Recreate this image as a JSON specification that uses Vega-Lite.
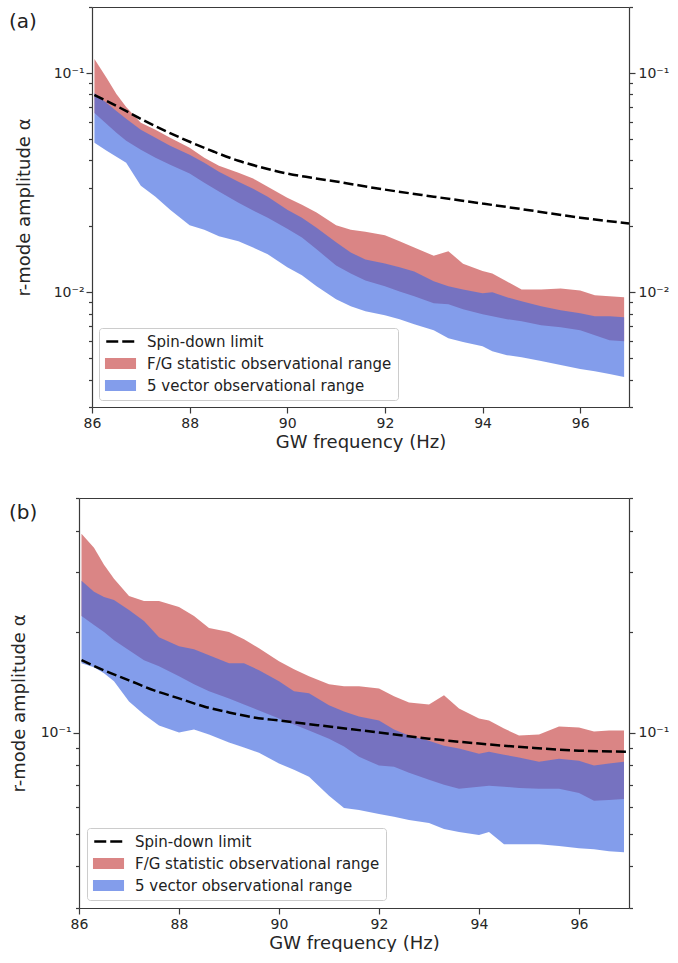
{
  "$schema": "https://vega.github.io/schema/vega-lite/v6.json",
  "background": "white",
  "padding": {"left": 9, "top": 0, "right": 0, "bottom": 0},
  "autosize": {"type": "pad"},
  "config": {
    "view": {"stroke": null},
    "font": "DejaVu Sans",
    "axis": {
      "domainColor": "#3a3a3a", "domainWidth": 1.2, "tickColor": "#3a3a3a", "tickWidth": 1.2,
      "labelColor": "#262626", "titleColor": "#262626", "labelFont": "DejaVu Sans", "titleFont": "DejaVu Sans",
      "labelFontSize": 14, "titleFontSize": 18, "titleFontWeight": "normal", "grid": false,
      "labelFlush": false, "labelOverlap": false
    },
    "legend": {
      "orient": "none", "title": null, "direction": "vertical",
      "labelFont": "DejaVu Sans", "labelFontSize": 15, "labelColor": "#222222", "labelLimit": 400,
      "symbolSize": 225, "symbolOffset": 8, "labelOffset": 19, "rowPadding": 6, "padding": 6,
      "strokeColor": "#cccccc", "fillColor": "rgba(255,255,255,0.8)", "cornerRadius": 3
    }
  },
  "datasets": {
    "a": [
      {"f":86.05,"fg_hi":0.1158,"fg_lo":0.0658,"fv_hi":0.0811,"fv_lo":0.0481},
      {"f":86.3,"fg_hi":0.0949,"fg_lo":0.0586,"fv_hi":0.0730,"fv_lo":0.0442},
      {"f":86.5,"fg_hi":0.0803,"fg_lo":0.0534,"fv_hi":0.0672,"fv_lo":0.0415},
      {"f":86.7,"fg_hi":0.0700,"fg_lo":0.0491,"fv_hi":0.0618,"fv_lo":0.0390},
      {"f":87.0,"fg_hi":0.0593,"fg_lo":0.0447,"fv_hi":0.0551,"fv_lo":0.0306},
      {"f":87.3,"fg_hi":0.0551,"fg_lo":0.0411,"fv_hi":0.0507,"fv_lo":0.0273},
      {"f":87.6,"fg_hi":0.0507,"fg_lo":0.0382,"fv_hi":0.0466,"fv_lo":0.0238},
      {"f":88.0,"fg_hi":0.0456,"fg_lo":0.0348,"fv_hi":0.0424,"fv_lo":0.0202},
      {"f":88.3,"fg_hi":0.0411,"fg_lo":0.0316,"fv_hi":0.0390,"fv_lo":0.0193},
      {"f":88.6,"fg_hi":0.0378,"fg_lo":0.0288,"fv_hi":0.0355,"fv_lo":0.0180},
      {"f":89.0,"fg_hi":0.0351,"fg_lo":0.0256,"fv_hi":0.0319,"fv_lo":0.0171},
      {"f":89.3,"fg_hi":0.0330,"fg_lo":0.0236,"fv_hi":0.0297,"fv_lo":0.0160},
      {"f":89.6,"fg_hi":0.0303,"fg_lo":0.0219,"fv_hi":0.0273,"fv_lo":0.0149},
      {"f":90.0,"fg_hi":0.0270,"fg_lo":0.0195,"fv_hi":0.0238,"fv_lo":0.0130},
      {"f":90.3,"fg_hi":0.0251,"fg_lo":0.0178,"fv_hi":0.0219,"fv_lo":0.01195},
      {"f":90.6,"fg_hi":0.0231,"fg_lo":0.0157,"fv_hi":0.0197,"fv_lo":0.01065},
      {"f":91.0,"fg_hi":0.0202,"fg_lo":0.01327,"fv_hi":0.0169,"fv_lo":0.0093},
      {"f":91.3,"fg_hi":0.0193,"fg_lo":0.0122,"fv_hi":0.0152,"fv_lo":0.00864},
      {"f":91.6,"fg_hi":0.0189,"fg_lo":0.01133,"fv_hi":0.0141,"fv_lo":0.00819},
      {"f":92.0,"fg_hi":0.0182,"fg_lo":0.01065,"fv_hi":0.01355,"fv_lo":0.00786},
      {"f":92.3,"fg_hi":0.0171,"fg_lo":0.0101,"fv_hi":0.0130,"fv_lo":0.00754},
      {"f":92.6,"fg_hi":0.0160,"fg_lo":0.00959,"fv_hi":0.01246,"fv_lo":0.00715},
      {"f":93.0,"fg_hi":0.0147,"fg_lo":0.00891,"fv_hi":0.01122,"fv_lo":0.00672},
      {"f":93.3,"fg_hi":0.0154,"fg_lo":0.00882,"fv_hi":0.01065,"fv_lo":0.00618},
      {"f":93.6,"fg_hi":0.0135,"fg_lo":0.00837,"fv_hi":0.01031,"fv_lo":0.00593},
      {"f":94.0,"fg_hi":0.0125,"fg_lo":0.00794,"fv_hi":0.0099,"fv_lo":0.00568},
      {"f":94.2,"fg_hi":0.0122,"fg_lo":0.00778,"fv_hi":0.0100,"fv_lo":0.00539},
      {"f":94.5,"fg_hi":0.0112,"fg_lo":0.00754,"fv_hi":0.00949,"fv_lo":0.00517},
      {"f":94.8,"fg_hi":0.0103,"fg_lo":0.00738,"fv_hi":0.0091,"fv_lo":0.00506},
      {"f":95.2,"fg_hi":0.0103,"fg_lo":0.00708,"fv_hi":0.00864,"fv_lo":0.00486},
      {"f":95.6,"fg_hi":0.0104,"fg_lo":0.00693,"fv_hi":0.00829,"fv_lo":0.00466},
      {"f":96.0,"fg_hi":0.0102,"fg_lo":0.00672,"fv_hi":0.00803,"fv_lo":0.00447},
      {"f":96.3,"fg_hi":0.00969,"fg_lo":0.00637,"fv_hi":0.00778,"fv_lo":0.00437},
      {"f":96.6,"fg_hi":0.00959,"fg_lo":0.00605,"fv_hi":0.00778,"fv_lo":0.00424},
      {"f":96.9,"fg_hi":0.00949,"fg_lo":0.00599,"fv_hi":0.0077,"fv_lo":0.00411}
    ],
    "b": [
      {"f":86.05,"fg_hi":0.3915,"fg_lo":0.2225,"fv_hi":0.2833,"fv_lo":0.1609},
      {"f":86.3,"fg_hi":0.3555,"fg_lo":0.2091,"fv_hi":0.2626,"fv_lo":0.1565},
      {"f":86.5,"fg_hi":0.3162,"fg_lo":0.1993,"fv_hi":0.2536,"fv_lo":0.1502},
      {"f":86.7,"fg_hi":0.2872,"fg_lo":0.1885,"fv_hi":0.2484,"fv_lo":0.1421},
      {"f":87.0,"fg_hi":0.2554,"fg_lo":0.1760,"fv_hi":0.2319,"fv_lo":0.1238},
      {"f":87.3,"fg_hi":0.2467,"fg_lo":0.1643,"fv_hi":0.2149,"fv_lo":0.1132},
      {"f":87.6,"fg_hi":0.2467,"fg_lo":0.1576,"fv_hi":0.1924,"fv_lo":0.1049},
      {"f":88.0,"fg_hi":0.2368,"fg_lo":0.1471,"fv_hi":0.1809,"fv_lo":0.1000},
      {"f":88.3,"fg_hi":0.2225,"fg_lo":0.1392,"fv_hi":0.1772,"fv_lo":0.1021},
      {"f":88.6,"fg_hi":0.2048,"fg_lo":0.1327,"fv_hi":0.1700,"fv_lo":0.0986},
      {"f":89.0,"fg_hi":0.1993,"fg_lo":0.1264,"fv_hi":0.1609,"fv_lo":0.0934},
      {"f":89.3,"fg_hi":0.1898,"fg_lo":0.1213,"fv_hi":0.1609,"fv_lo":0.0902},
      {"f":89.6,"fg_hi":0.1784,"fg_lo":0.1164,"fv_hi":0.1533,"fv_lo":0.0871},
      {"f":90.0,"fg_hi":0.1632,"fg_lo":0.1101,"fv_hi":0.1421,"fv_lo":0.0808},
      {"f":90.3,"fg_hi":0.1544,"fg_lo":0.1057,"fv_hi":0.1327,"fv_lo":0.0775},
      {"f":90.6,"fg_hi":0.1471,"fg_lo":0.1014,"fv_hi":0.1309,"fv_lo":0.0738},
      {"f":91.0,"fg_hi":0.1392,"fg_lo":0.0959,"fv_hi":0.1205,"fv_lo":0.0648},
      {"f":91.3,"fg_hi":0.1373,"fg_lo":0.0908,"fv_hi":0.1156,"fv_lo":0.0596},
      {"f":91.6,"fg_hi":0.1373,"fg_lo":0.0847,"fv_hi":0.1117,"fv_lo":0.0588},
      {"f":92.0,"fg_hi":0.1354,"fg_lo":0.0797,"fv_hi":0.1086,"fv_lo":0.0572},
      {"f":92.3,"fg_hi":0.1282,"fg_lo":0.0791,"fv_hi":0.1021,"fv_lo":0.0561},
      {"f":92.6,"fg_hi":0.1230,"fg_lo":0.0759,"fv_hi":0.0980,"fv_lo":0.0549},
      {"f":93.0,"fg_hi":0.1213,"fg_lo":0.0723,"fv_hi":0.0946,"fv_lo":0.0538},
      {"f":93.3,"fg_hi":0.1291,"fg_lo":0.0699,"fv_hi":0.0914,"fv_lo":0.0516},
      {"f":93.6,"fg_hi":0.1180,"fg_lo":0.0680,"fv_hi":0.0896,"fv_lo":0.0505},
      {"f":94.0,"fg_hi":0.1101,"fg_lo":0.0689,"fv_hi":0.0865,"fv_lo":0.0495},
      {"f":94.2,"fg_hi":0.1086,"fg_lo":0.0694,"fv_hi":0.0877,"fv_lo":0.0505},
      {"f":94.5,"fg_hi":0.1028,"fg_lo":0.0689,"fv_hi":0.0859,"fv_lo":0.0465},
      {"f":94.8,"fg_hi":0.0980,"fg_lo":0.0684,"fv_hi":0.0842,"fv_lo":0.0465},
      {"f":95.2,"fg_hi":0.0986,"fg_lo":0.0680,"fv_hi":0.0819,"fv_lo":0.0465},
      {"f":95.6,"fg_hi":0.1042,"fg_lo":0.0680,"fv_hi":0.0836,"fv_lo":0.0459},
      {"f":96.0,"fg_hi":0.1035,"fg_lo":0.0661,"fv_hi":0.0824,"fv_lo":0.0452},
      {"f":96.3,"fg_hi":0.1007,"fg_lo":0.0626,"fv_hi":0.0797,"fv_lo":0.0449},
      {"f":96.6,"fg_hi":0.1014,"fg_lo":0.0630,"fv_hi":0.0808,"fv_lo":0.0443},
      {"f":96.9,"fg_hi":0.1014,"fg_lo":0.0634,"fv_hi":0.0819,"fv_lo":0.0440}
    ],
    "sa": [
      {"f":86.05,"alpha":0.0794},{"f":86.5,"alpha":0.0708},{"f":87.0,"alpha":0.0618},{"f":87.5,"alpha":0.0545},
      {"f":88.0,"alpha":0.0486},{"f":88.5,"alpha":0.04375},{"f":89.0,"alpha":0.0398},{"f":89.5,"alpha":0.0370},
      {"f":90.0,"alpha":0.0348},{"f":90.5,"alpha":0.0333},{"f":91.0,"alpha":0.0320},{"f":92.0,"alpha":0.0294},
      {"f":93.0,"alpha":0.0273},{"f":94.0,"alpha":0.0254},{"f":95.0,"alpha":0.0236},{"f":96.0,"alpha":0.0219},
      {"f":97.0,"alpha":0.0206}
    ],
    "sb": [
      {"f":86.05,"alpha":0.1643},{"f":86.5,"alpha":0.1533},{"f":87.0,"alpha":0.1431},{"f":87.5,"alpha":0.1336},
      {"f":88.0,"alpha":0.1264},{"f":88.5,"alpha":0.1196},{"f":89.0,"alpha":0.1148},{"f":89.5,"alpha":0.1109},
      {"f":90.0,"alpha":0.1086},{"f":90.5,"alpha":0.1064},{"f":91.0,"alpha":0.1042},{"f":92.0,"alpha":0.1},
      {"f":93.0,"alpha":0.0959},{"f":94.0,"alpha":0.0927},{"f":95.0,"alpha":0.0902},{"f":96.0,"alpha":0.0883},
      {"f":97.0,"alpha":0.0877}
    ]
  },
  "spacing": 40,
  "resolve": {"scale": {"color": "independent"}},
  "vconcat": [
    {
      "width": 550,
      "height": 400,
      "title": {"text": "(a)", "anchor": "start", "frame": "group", "offset": 0, "dx": -70, "dy": 32, "fontSize": 20, "fontWeight": "normal", "font": "DejaVu Sans", "color": "#222222"},
      "layer": [
        {
          "data": {"name": "a"},
          "mark": {"type": "area", "opacity": 0.75},
          "encoding": {
            "x": {"field": "f", "type": "quantitative", "scale": {"domain": [86, 97], "range": [13, 550], "nice": false, "zero": false},
                  "axis": {"orient": "bottom", "values": [86, 88, 90, 92, 94, 96], "tickSize": 6, "labelPadding": 3, "title": "GW frequency (Hz)", "titlePadding": 3}},
            "y": {"field": "fg_hi", "type": "quantitative", "scale": {"type": "log", "domain": [0.003, 0.2], "nice": false},
                  "axis": {"orient": "left", "offset": -13, "values": [0.003, 0.004, 0.005, 0.006, 0.007, 0.008, 0.009, 0.01, 0.02, 0.03, 0.04, 0.05, 0.06, 0.07, 0.08, 0.09, 0.1, 0.2],
                           "labelExpr": "datum.value == 0.1 ? '10⁻¹' : datum.value == 0.01 ? '10⁻²' : ''",
                           "tickSize": {"condition": {"test": "datum.value == 0.1 || datum.value == 0.01", "value": 6}, "value": 3.5},
                           "labelPadding": 2, "title": "r-mode amplitude α", "titlePadding": 20}},
            "y2": {"field": "fg_lo"},
            "color": {"datum": "F/G statistic observational range", "type": "nominal",
                      "scale": {"domain": ["Spin-down limit", "F/G statistic observational range", "5 vector observational range"], "range": ["#000000", "#cd5c5c", "#4169e1"]},
                      "legend": {
                        "legendX": 20, "legendY": 321,
                        "encode": {"symbols": {"update": {
                          "shape": {"signal": "datum.value == 'Spin-down limit' ? 'M-1.9,0H1.9' : 'M-2.07,-0.73H2.07V0.73H-2.07Z'"},
                          "fill": {"signal": "datum.value == 'Spin-down limit' ? 'transparent' : datum.value == 'F/G statistic observational range' ? '#cd5c5c' : '#4169e1'"},
                          "fillOpacity": {"signal": "datum.value == 'F/G statistic observational range' ? 0.75 : 0.65"},
                          "stroke": {"signal": "datum.value == 'Spin-down limit' ? '#000000' : 'transparent'"},
                          "strokeWidth": {"signal": "datum.value == 'Spin-down limit' ? 2.5 : 0"},
                          "strokeDash": {"signal": "datum.value == 'Spin-down limit' ? [12, 4] : [1, 0]"},
                          "opacity": {"value": 1}
                        }}}
                      }}
          }
        },
        {
          "data": {"name": "a"},
          "mark": {"type": "area", "opacity": 0.65},
          "encoding": {
            "x": {"field": "f", "type": "quantitative", "scale": {"domain": [86, 97], "range": [13, 550], "nice": false, "zero": false},
                  "axis": {"orient": "top", "labels": false, "ticks": false, "title": null, "domain": true}},
            "y": {"field": "fv_hi", "type": "quantitative", "scale": {"type": "log", "domain": [0.003, 0.2], "nice": false},
                  "axis": {"orient": "right", "values": [0.003, 0.004, 0.005, 0.006, 0.007, 0.008, 0.009, 0.01, 0.02, 0.03, 0.04, 0.05, 0.06, 0.07, 0.08, 0.09, 0.1, 0.2],
                           "labelExpr": "datum.value == 0.1 ? '10⁻¹' : datum.value == 0.01 ? '10⁻²' : ''",
                           "tickSize": {"condition": {"test": "datum.value == 0.1 || datum.value == 0.01", "value": 6}, "value": 3.5},
                           "labelPadding": 3, "title": null}},
            "y2": {"field": "fv_lo"},
            "color": {"datum": "5 vector observational range", "type": "nominal",
                      "legend": {
                        "legendX": 20, "legendY": 321,
                        "encode": {"symbols": {"update": {
                          "shape": {"signal": "datum.value == 'Spin-down limit' ? 'M-1.9,0H1.9' : 'M-2.07,-0.73H2.07V0.73H-2.07Z'"},
                          "fill": {"signal": "datum.value == 'Spin-down limit' ? 'transparent' : datum.value == 'F/G statistic observational range' ? '#cd5c5c' : '#4169e1'"},
                          "fillOpacity": {"signal": "datum.value == 'F/G statistic observational range' ? 0.75 : 0.65"},
                          "stroke": {"signal": "datum.value == 'Spin-down limit' ? '#000000' : 'transparent'"},
                          "strokeWidth": {"signal": "datum.value == 'Spin-down limit' ? 2.5 : 0"},
                          "strokeDash": {"signal": "datum.value == 'Spin-down limit' ? [12, 4] : [1, 0]"},
                          "opacity": {"value": 1}
                        }}}
                      }}
          }
        },
        {
          "data": {"name": "sa"},
          "mark": {"type": "line", "strokeDash": [10, 4], "strokeWidth": 2.5, "interpolate": "monotone"},
          "encoding": {
            "x": {"field": "f", "type": "quantitative", "axis": null},
            "y": {"field": "alpha", "type": "quantitative", "axis": null},
            "color": {"datum": "Spin-down limit", "type": "nominal",
                      "legend": {
                        "legendX": 20, "legendY": 321,
                        "encode": {"symbols": {"update": {
                          "shape": {"signal": "datum.value == 'Spin-down limit' ? 'M-1.9,0H1.9' : 'M-2.07,-0.73H2.07V0.73H-2.07Z'"},
                          "fill": {"signal": "datum.value == 'Spin-down limit' ? 'transparent' : datum.value == 'F/G statistic observational range' ? '#cd5c5c' : '#4169e1'"},
                          "fillOpacity": {"signal": "datum.value == 'F/G statistic observational range' ? 0.75 : 0.65"},
                          "stroke": {"signal": "datum.value == 'Spin-down limit' ? '#000000' : 'transparent'"},
                          "strokeWidth": {"signal": "datum.value == 'Spin-down limit' ? 2.5 : 0"},
                          "strokeDash": {"signal": "datum.value == 'Spin-down limit' ? [12, 4] : [1, 0]"},
                          "opacity": {"value": 1}
                        }}}
                      }}
          }
        },
        {
          "mark": {"type": "text", "align": "left", "baseline": "middle", "fontSize": 15, "font": "DejaVu Sans", "color": "#222222"},
          "encoding": {
            "x": {"datum": 91.0, "type": "quantitative", "axis": null},
            "y": {"datum": 0.157, "type": "quantitative", "axis": null},
            "text": {"value": "Causally limited EoS + crust"}
          }
        }
      ],
      "resolve": {"axis": {"x": "independent", "y": "independent"}}
    },
    {
      "width": 550,
      "height": 410,
      "title": {"text": "(b)", "anchor": "start", "frame": "group", "offset": 0, "dx": -70, "dy": 32, "fontSize": 20, "fontWeight": "normal", "font": "DejaVu Sans", "color": "#222222"},
      "layer": [
        {
          "data": {"name": "b"},
          "mark": {"type": "area", "opacity": 0.75},
          "encoding": {
            "x": {"field": "f", "type": "quantitative", "scale": {"domain": [86, 97], "nice": false, "zero": false},
                  "axis": {"orient": "bottom", "values": [86, 88, 90, 92, 94, 96], "tickSize": 6, "labelPadding": 3, "title": "GW frequency (Hz)", "titlePadding": 3}},
            "y": {"field": "fg_hi", "type": "quantitative", "scale": {"type": "log", "domain": [0.03, 0.5], "nice": false},
                  "axis": {"orient": "left", "values": [0.03, 0.04, 0.05, 0.06, 0.07, 0.08, 0.09, 0.1, 0.2, 0.3, 0.4, 0.5],
                           "labelExpr": "datum.value == 0.1 ? '10⁻¹' : ''",
                           "tickSize": {"condition": {"test": "datum.value == 0.1", "value": 6}, "value": 3.5},
                           "labelPadding": 2, "title": "r-mode amplitude α", "titlePadding": 12}},
            "y2": {"field": "fg_lo"},
            "color": {"datum": "F/G statistic observational range", "type": "nominal",
                      "scale": {"domain": ["Spin-down limit", "F/G statistic observational range", "5 vector observational range"], "range": ["#000000", "#cd5c5c", "#4169e1"]},
                      "legend": {
                        "legendX": 8, "legendY": 330,
                        "encode": {"symbols": {"update": {
                          "shape": {"signal": "datum.value == 'Spin-down limit' ? 'M-1.9,0H1.9' : 'M-2.07,-0.73H2.07V0.73H-2.07Z'"},
                          "fill": {"signal": "datum.value == 'Spin-down limit' ? 'transparent' : datum.value == 'F/G statistic observational range' ? '#cd5c5c' : '#4169e1'"},
                          "fillOpacity": {"signal": "datum.value == 'F/G statistic observational range' ? 0.75 : 0.65"},
                          "stroke": {"signal": "datum.value == 'Spin-down limit' ? '#000000' : 'transparent'"},
                          "strokeWidth": {"signal": "datum.value == 'Spin-down limit' ? 2.5 : 0"},
                          "strokeDash": {"signal": "datum.value == 'Spin-down limit' ? [12, 4] : [1, 0]"},
                          "opacity": {"value": 1}
                        }}}
                      }}
          }
        },
        {
          "data": {"name": "b"},
          "mark": {"type": "area", "opacity": 0.65},
          "encoding": {
            "x": {"field": "f", "type": "quantitative", "scale": {"domain": [86, 97], "nice": false, "zero": false},
                  "axis": {"orient": "top", "labels": false, "ticks": false, "title": null, "domain": true}},
            "y": {"field": "fv_hi", "type": "quantitative", "scale": {"type": "log", "domain": [0.03, 0.5], "nice": false},
                  "axis": {"orient": "right", "values": [0.03, 0.04, 0.05, 0.06, 0.07, 0.08, 0.09, 0.1, 0.2, 0.3, 0.4, 0.5],
                           "labelExpr": "datum.value == 0.1 ? '10⁻¹' : ''",
                           "tickSize": {"condition": {"test": "datum.value == 0.1", "value": 6}, "value": 3.5},
                           "labelPadding": 3, "title": null}},
            "y2": {"field": "fv_lo"},
            "color": {"datum": "5 vector observational range", "type": "nominal",
                      "legend": {
                        "legendX": 8, "legendY": 330,
                        "encode": {"symbols": {"update": {
                          "shape": {"signal": "datum.value == 'Spin-down limit' ? 'M-1.9,0H1.9' : 'M-2.07,-0.73H2.07V0.73H-2.07Z'"},
                          "fill": {"signal": "datum.value == 'Spin-down limit' ? 'transparent' : datum.value == 'F/G statistic observational range' ? '#cd5c5c' : '#4169e1'"},
                          "fillOpacity": {"signal": "datum.value == 'F/G statistic observational range' ? 0.75 : 0.65"},
                          "stroke": {"signal": "datum.value == 'Spin-down limit' ? '#000000' : 'transparent'"},
                          "strokeWidth": {"signal": "datum.value == 'Spin-down limit' ? 2.5 : 0"},
                          "strokeDash": {"signal": "datum.value == 'Spin-down limit' ? [12, 4] : [1, 0]"},
                          "opacity": {"value": 1}
                        }}}
                      }}
          }
        },
        {
          "data": {"name": "sb"},
          "mark": {"type": "line", "strokeDash": [10, 4], "strokeWidth": 2.5, "interpolate": "monotone"},
          "encoding": {
            "x": {"field": "f", "type": "quantitative", "axis": null},
            "y": {"field": "alpha", "type": "quantitative", "axis": null},
            "color": {"datum": "Spin-down limit", "type": "nominal",
                      "legend": {
                        "legendX": 8, "legendY": 330,
                        "encode": {"symbols": {"update": {
                          "shape": {"signal": "datum.value == 'Spin-down limit' ? 'M-1.9,0H1.9' : 'M-2.07,-0.73H2.07V0.73H-2.07Z'"},
                          "fill": {"signal": "datum.value == 'Spin-down limit' ? 'transparent' : datum.value == 'F/G statistic observational range' ? '#cd5c5c' : '#4169e1'"},
                          "fillOpacity": {"signal": "datum.value == 'F/G statistic observational range' ? 0.75 : 0.65"},
                          "stroke": {"signal": "datum.value == 'Spin-down limit' ? '#000000' : 'transparent'"},
                          "strokeWidth": {"signal": "datum.value == 'Spin-down limit' ? 2.5 : 0"},
                          "strokeDash": {"signal": "datum.value == 'Spin-down limit' ? [12, 4] : [1, 0]"},
                          "opacity": {"value": 1}
                        }}}
                      }}
          }
        },
        {
          "mark": {"type": "text", "align": "left", "baseline": "middle", "fontSize": 15, "font": "DejaVu Sans", "color": "#222222"},
          "encoding": {
            "x": {"datum": 91.0, "type": "quantitative", "axis": null},
            "y": {"datum": 0.4686, "type": "quantitative", "axis": null},
            "text": {"value": "WFF1 EoS"}
          }
        }
      ],
      "resolve": {"axis": {"x": "independent", "y": "independent"}}
    }
  ]
}
